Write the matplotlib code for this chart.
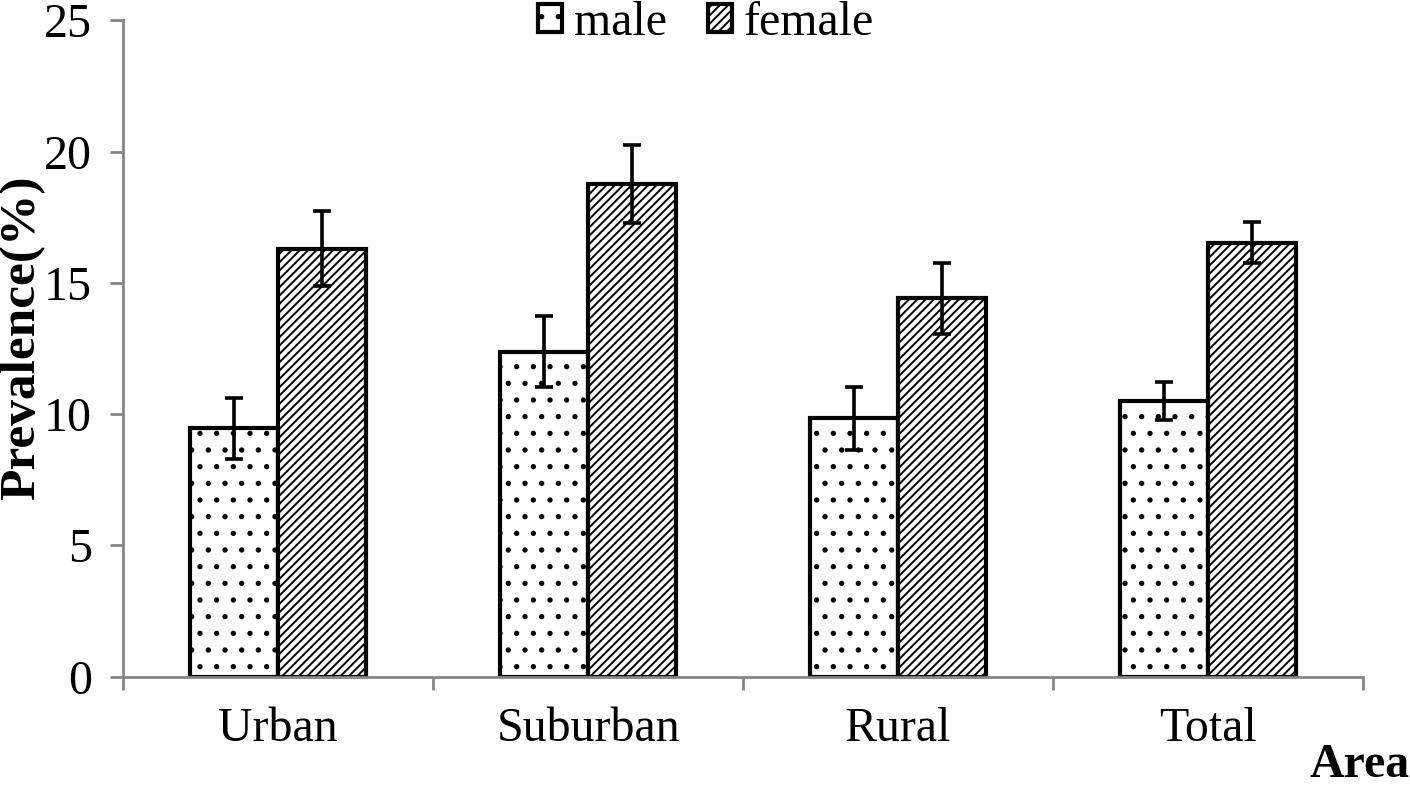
import matplotlib
matplotlib.use("Agg")
import matplotlib.pyplot as plt
import numpy as np

categories = ["Urban", "Suburban", "Rural", "Total"]
male = [9.46, 12.38, 9.84, 10.51]
male_err = [1.16, 1.36, 1.20, 0.72]
female = [16.31, 18.76, 14.41, 16.54]
female_err = [1.42, 1.48, 1.36, 0.78]
yticks = [0, 5, 10, 15, 20, 25]

plt.rcParams['font.family'] = ['Liberation Serif', 'DejaVu Serif']
plt.rcParams['hatch.linewidth'] = 1.4
FS = 34.5

fig = plt.figure(figsize=(14.10, 7.87), dpi=100)
ax = fig.add_axes([0.0874, 0.1402, 0.9667 - 0.0874, 0.9740 - 0.1402])

x = np.arange(len(categories))
w = 0.283
ekw = dict(elinewidth=2.6, capthick=2.6, ecolor='black')
ax.bar(x - w / 2, male, w, yerr=male_err, capsize=6.5, color='white',
       edgecolor='black', linewidth=3.0, hatch='.', label='male',
       error_kw=ekw, zorder=2)
ax.bar(x + w / 2, female, w, yerr=female_err, capsize=6.5, color='white',
       edgecolor='black', linewidth=3.0, hatch='////', label='female',
       error_kw=ekw, zorder=2)

ax.set_xlim(-0.5, len(categories) - 0.5)
ax.set_ylim(0, 25)
ax.set_yticks(yticks)
ax.set_yticklabels([str(t) for t in yticks], fontsize=FS)
ax.set_xticks(x)
ax.set_xticklabels(categories, fontsize=FS)
ax.set_xticks(np.arange(len(categories) + 1) - 0.5, minor=True)

gray = '#868686'
for s in ['top', 'right']:
    ax.spines[s].set_visible(False)
for s in ['left', 'bottom']:
    ax.spines[s].set_color(gray)
    ax.spines[s].set_linewidth(2.0)

ax.tick_params(axis='y', which='major', direction='out', length=9.4,
               width=2.0, color=gray, pad=13)
ax.tick_params(axis='x', which='major', length=0, pad=22)
ax.tick_params(axis='x', which='minor', direction='out', length=9.4,
               width=2.0, color=gray)

fig.text(22 / 1410, 1 - 338 / 787, 'Prevalence(%)', rotation=90,
         fontsize=37, fontweight='bold', ha='center', va='center')
fig.text(1.0, 0.0, 'Area', fontsize=FS, fontweight='bold',
         ha='right', va='bottom')

leg = ax.legend(loc='center', bbox_to_anchor=(706 / 1410, 1 - 23 / 787),
                bbox_transform=fig.transFigure, ncol=2, frameon=False,
                fontsize=FS, handlelength=0.5, handleheight=0.5,
                handletextpad=0.25, columnspacing=0.85, borderpad=0)

fig.savefig('out.png', dpi=100)
